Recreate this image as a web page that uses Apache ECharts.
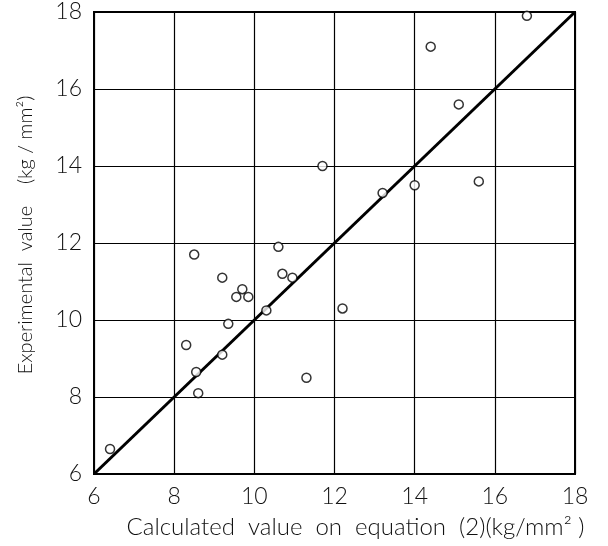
<!DOCTYPE html>
<html>
<head>
<meta charset="utf-8">
<script src="https://cdn.jsdelivr.net/npm/echarts@6/dist/echarts.min.js"></script>
<style>html,body{margin:0;padding:0;background:#fff}#c{width:608px;height:546px}</style>
</head>
<body>
<div id="c"></div>
<script>
// Calculated value (x) and experimental value (y), kg/mm²
const calculated = [6.4, 8.3, 8.55, 8.6, 8.5, 9.2, 9.2, 9.35, 9.55, 9.7, 9.85, 10.3, 10.6, 10.7, 10.95, 11.3, 11.7, 12.2, 13.2, 14.0, 14.4, 15.1, 15.6, 16.8];
const experimental = [6.65, 9.35, 8.65, 8.1, 11.7, 11.1, 9.1, 9.9, 10.6, 10.8, 10.6, 10.25, 11.9, 11.2, 11.1, 8.5, 14.0, 10.3, 13.3, 13.5, 17.1, 15.6, 13.6, 17.9];
const lineX = [6, 18];
const lineY = [6, 18];
const ticks = [6, 8, 10, 12, 14, 16, 18];

const font = 'Lato';
const chart = echarts.init(document.getElementById('c'));
chart.setOption({
  animation: false,
  backgroundColor: '#fff',
  grid: { left: 94, right: 33, top: 12, bottom: 72, show: true, borderColor: '#000', borderWidth: 2, backgroundColor: 'transparent' },
  xAxis: {
    type: 'value', min: 6, max: 18, interval: 2,
    axisLine: { show: false }, axisTick: { show: false },
    splitLine: { show: true, lineStyle: { color: '#000', width: 1.2 } },
    axisLabel: { color: '#111', fontSize: 23, fontFamily: font, fontWeight: 300, margin: 11,
      formatter: v => ticks.includes(v) ? String(v) : '' },
    name: 'Calculated  value  on  equation  (2)(kg/mm² )',
    nameLocation: 'middle', nameGap: 41,
    nameTextStyle: { color: '#111', fontSize: 24, fontFamily: font, fontWeight: 300, padding: [0, 0, 0, 42] }
  },
  yAxis: {
    type: 'value', min: 6, max: 18, interval: 2,
    axisLine: { show: false }, axisTick: { show: false },
    splitLine: { show: true, lineStyle: { color: '#000', width: 1.2 } },
    axisLabel: { color: '#111', fontSize: 23, fontFamily: font, fontWeight: 300, margin: 12,
      formatter: v => ticks.includes(v) ? String(v) : '' },
    name: 'Experimental  value    (kg / mm²)',
    nameLocation: 'middle', nameGap: 58, nameRotate: 90,
    nameTextStyle: { color: '#111', fontSize: 20, fontFamily: font, fontWeight: 300, padding: [0, 0, 0, 16] }
  },
  series: [
    {
      type: 'line', data: lineX.map((x, i) => [x, lineY[i]]), symbol: 'none',
      lineStyle: { color: '#000', width: 3 }, z: 3
    },
    {
      type: 'scatter', data: calculated.map((x, i) => [x, experimental[i]]),
      symbol: 'circle', symbolSize: 9,
      itemStyle: { color: '#fff', borderColor: '#000', borderWidth: 1.5 }, z: 4
    }
  ]
});
</script>
</body>
</html>
